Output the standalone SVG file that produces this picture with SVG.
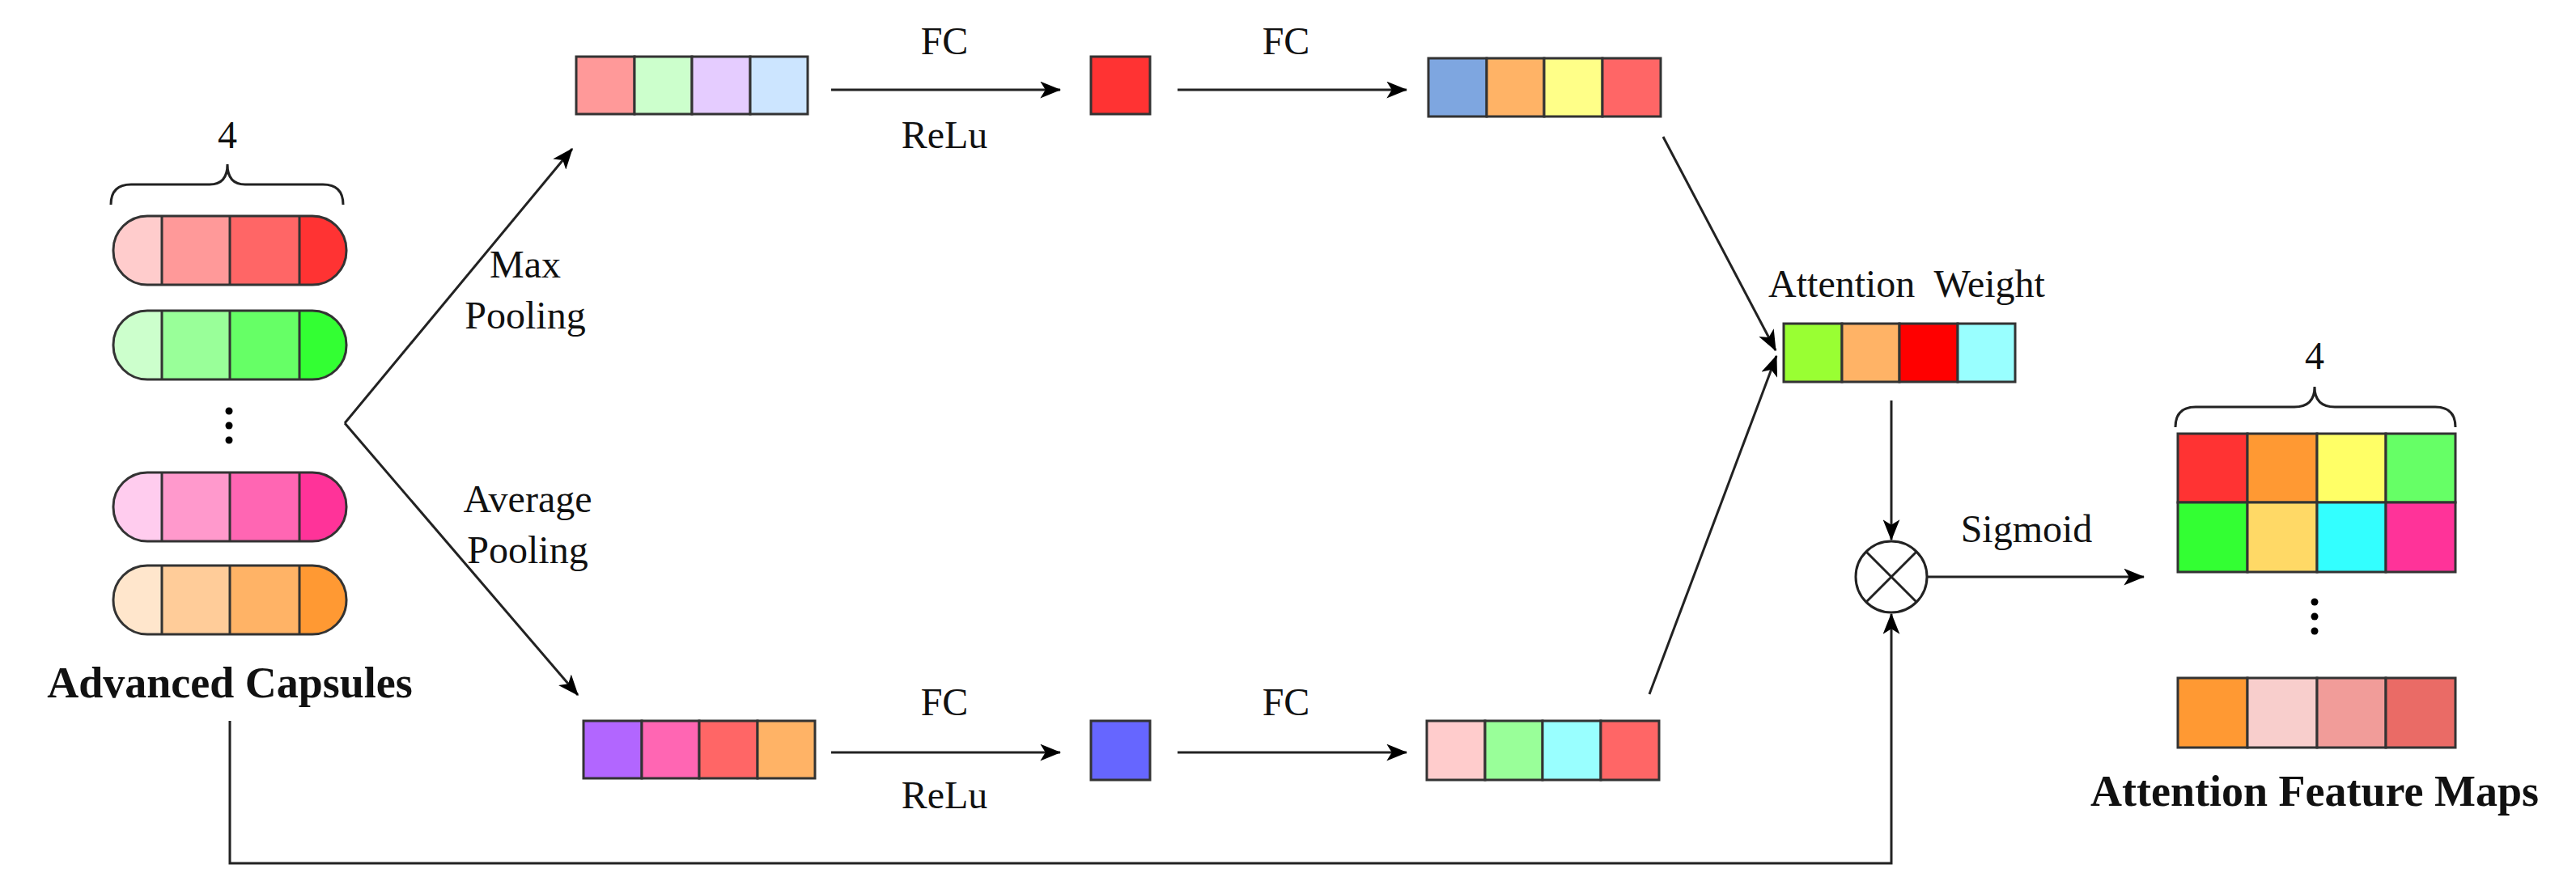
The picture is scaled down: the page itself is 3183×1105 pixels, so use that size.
<svg xmlns="http://www.w3.org/2000/svg" width="3183" height="1105" viewBox="0 0 3183 1105">
<style>
.c{stroke:#333;stroke-width:3}
.l{stroke:#222;stroke-width:3;fill:none}
.t{font-family:'Liberation Serif','Times New Roman',serif;font-size:48px;fill:#111;text-anchor:middle}
.b{font-family:'Liberation Serif','Times New Roman',serif;font-size:54px;font-weight:bold;fill:#111;text-anchor:middle}
</style>
<defs>
<marker id="ah" viewBox="0 0 20 16" refX="19" refY="8" markerWidth="26" markerHeight="21" orient="auto" markerUnits="userSpaceOnUse"><path d="M0,0 L20,8 L0,16 L5,8 Z" fill="#000"/></marker>
<clipPath id="cap"><rect x="0" y="0" width="288" height="85" rx="42"/></clipPath>
</defs>
<g id="capsules">
<path class="l" d="M137,253 q0,-25 25,-25 h97 q22,0 22,-25 q0,25 22,25 h96 q25,0 25,25"/>
<text class="t" font-family="Liberation Serif, serif" x="281" y="183">4</text>
<g transform="translate(140,267)"><g clip-path="url(#cap)"><rect width="60" height="85" fill="#ffcccc"/><rect x="60" width="84" height="85" fill="#ff9999"/><rect x="144" width="86" height="85" fill="#ff6666"/><rect x="230" width="58" height="85" fill="#ff3333"/></g><path class="c" d="M60,0V85M144,0V85M230,0V85"/><rect class="c" fill="none" width="288" height="85" rx="42"/></g>
<g transform="translate(140,384)"><g clip-path="url(#cap)"><rect width="60" height="85" fill="#ccffcc"/><rect x="60" width="84" height="85" fill="#99ff99"/><rect x="144" width="86" height="85" fill="#66ff66"/><rect x="230" width="58" height="85" fill="#33ff33"/></g><path class="c" d="M60,0V85M144,0V85M230,0V85"/><rect class="c" fill="none" width="288" height="85" rx="42"/></g>
<circle cx="283" cy="508" r="4.5" fill="#000"/><circle cx="283" cy="526" r="4.5" fill="#000"/><circle cx="283" cy="544" r="4.5" fill="#000"/>
<g transform="translate(140,584)"><g clip-path="url(#cap)"><rect width="60" height="85" fill="#ffccee"/><rect x="60" width="84" height="85" fill="#ff99cc"/><rect x="144" width="86" height="85" fill="#ff66b3"/><rect x="230" width="58" height="85" fill="#ff3399"/></g><path class="c" d="M60,0V85M144,0V85M230,0V85"/><rect class="c" fill="none" width="288" height="85" rx="42"/></g>
<g transform="translate(140,699)"><g clip-path="url(#cap)"><rect width="60" height="85" fill="#ffe6cc"/><rect x="60" width="84" height="85" fill="#ffcc99"/><rect x="144" width="86" height="85" fill="#ffb366"/><rect x="230" width="58" height="85" fill="#ff9933"/></g><path class="c" d="M60,0V85M144,0V85M230,0V85"/><rect class="c" fill="none" width="288" height="85" rx="42"/></g>
<text class="b" x="284" y="862">Advanced Capsules</text>
</g>
<g id="maxvec" class="c">
<rect x="712" y="70" width="72" height="71" fill="#ff9999"/><rect x="784" y="70" width="71" height="71" fill="#ccffcc"/><rect x="855" y="70" width="72" height="71" fill="#e5ccff"/><rect x="927" y="70" width="71" height="71" fill="#cce5ff"/>
</g>
<g id="avgvec" class="c">
<rect x="721" y="891" width="72" height="71" fill="#b266ff"/><rect x="793" y="891" width="71" height="71" fill="#ff66b3"/><rect x="864" y="891" width="72" height="71" fill="#ff6666"/><rect x="936" y="891" width="71" height="71" fill="#ffb366"/>
</g>
<g id="fc1top" class="c"><rect x="1348" y="70" width="73" height="71" fill="#ff3333"/></g>
<g id="fc1bot" class="c"><rect x="1348" y="891" width="73" height="73" fill="#6666ff"/></g>
<g id="fc2top" class="c">
<rect x="1765" y="72" width="72" height="72" fill="#7ea6e0"/><rect x="1837" y="72" width="71" height="72" fill="#ffb366"/><rect x="1908" y="72" width="72" height="72" fill="#ffff88"/><rect x="1980" y="72" width="72" height="72" fill="#ff6666"/>
</g>
<g id="fc2bot" class="c">
<rect x="1763" y="891" width="72" height="73" fill="#ffcccc"/><rect x="1835" y="891" width="71" height="73" fill="#99ff99"/><rect x="1906" y="891" width="72" height="73" fill="#99ffff"/><rect x="1978" y="891" width="72" height="73" fill="#ff6666"/>
</g>
<g id="attw">
<text class="t" x="2356" y="367" xml:space="preserve">Attention  Weight</text>
<g class="c"><rect x="2204" y="400" width="72" height="72" fill="#99ff33"/><rect x="2276" y="400" width="71" height="72" fill="#ffb366"/><rect x="2347" y="400" width="72" height="72" fill="#ff0000"/><rect x="2419" y="400" width="71" height="72" fill="#99ffff"/></g>
</g>
<g id="mult">
<circle cx="2337" cy="713" r="44" fill="#fff" stroke="#222" stroke-width="3"/>
<path class="l" d="M2306,682L2368,744M2368,682L2306,744"/>
</g>
<g id="afm">
<path class="l" d="M2688,528 q0,-25 25,-25 h122 q25,0 25,-25 q0,25 25,25 h124 q25,0 25,25"/>
<text class="t" x="2860" y="456">4</text>
<g class="c">
<rect x="2691" y="536" width="86" height="85" fill="#ff3333"/><rect x="2777" y="536" width="86" height="85" fill="#ff9933"/><rect x="2863" y="536" width="85" height="85" fill="#ffff66"/><rect x="2948" y="536" width="86" height="85" fill="#66ff66"/>
<rect x="2691" y="621" width="86" height="86" fill="#33ff33"/><rect x="2777" y="621" width="86" height="86" fill="#ffd966"/><rect x="2863" y="621" width="85" height="86" fill="#33ffff"/><rect x="2948" y="621" width="86" height="86" fill="#ff3399"/>
<rect x="2691" y="838" width="86" height="86" fill="#ff9933"/><rect x="2777" y="838" width="86" height="86" fill="#f8cecc"/><rect x="2863" y="838" width="85" height="86" fill="#f19c99"/><rect x="2948" y="838" width="86" height="86" fill="#ea6b66"/>
</g>
<circle cx="2860" cy="744" r="4.5" fill="#000"/><circle cx="2860" cy="762" r="4.5" fill="#000"/><circle cx="2860" cy="780" r="4.5" fill="#000"/>
<text class="b" x="2860" y="996">Attention Feature Maps</text>
</g>
<g id="connectors" class="l">
<path d="M426,523L707,184" marker-end="url(#ah)"/>
<path d="M426,523L714,859" marker-end="url(#ah)"/>
<path d="M1027,111H1310" marker-end="url(#ah)"/>
<path d="M1455,111H1738" marker-end="url(#ah)"/>
<path d="M1027,930H1310" marker-end="url(#ah)"/>
<path d="M1455,930H1738" marker-end="url(#ah)"/>
<path d="M2055,169L2194,433" marker-end="url(#ah)"/>
<path d="M2038,858L2195,440" marker-end="url(#ah)"/>
<path d="M2337,495V667" marker-end="url(#ah)"/>
<path d="M2381,713H2649" marker-end="url(#ah)"/>
<path d="M284,891V1067H2337V759" marker-end="url(#ah)"/>
</g>
<g id="labels">
<text class="t" x="649" y="343">Max</text><text class="t" x="649" y="406">Pooling</text>
<text class="t" x="652" y="633">Average</text><text class="t" x="652" y="696">Pooling</text>
<text class="t" x="1167" y="67">FC</text><text class="t" x="1167" y="183">ReLu</text>
<text class="t" x="1589" y="67">FC</text>
<text class="t" x="1167" y="884">FC</text><text class="t" x="1167" y="999">ReLu</text>
<text class="t" x="1589" y="884">FC</text>
<text class="t" x="2504" y="670">Sigmoid</text>
</g>
</svg>
